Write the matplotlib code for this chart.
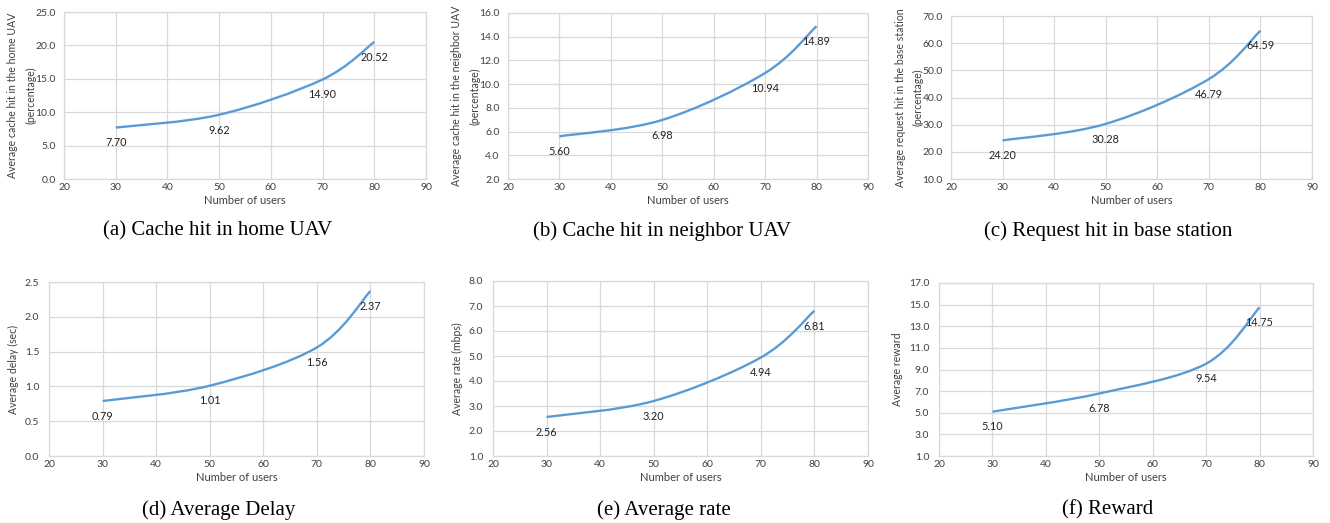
import matplotlib.pyplot as plt
from matplotlib.path import Path
import matplotlib.patches as patches
import numpy as np

# Data
users = [30, 50, 70, 80]
home_uav = [7.70, 9.62, 14.90, 20.52]
neighbor_uav = [5.60, 6.98, 10.94, 14.89]
base_station = [24.20, 30.28, 46.79, 64.59]
avg_delay = [0.79, 1.01, 1.56, 2.37]
avg_rate = [2.56, 3.20, 4.94, 6.81]
reward = [5.10, 6.78, 9.54, 14.75]

captions = ["(a) Cache hit in home UAV", "(b) Cache hit in neighbor UAV",
            "(c) Request hit in base station", "(d) Average Delay",
            "(e) Average rate", "(f) Reward"]
ylabels = ["Average cache hit in the home UAV\n(percentage)",
           "Average cache hit in the neighbor UAV\n(percentage)",
           "Average request hit in the base station\n(percentage)",
           "Average delay (sec)", "Average rate (mbps)", "Average reward"]
series = [home_uav, neighbor_uav, base_station, avg_delay, avg_rate, reward]
yranges = [(0, 25, 5), (2, 16, 2), (10, 70, 10), (0, 2.5, 0.5), (1, 8, 1), (1, 17, 2)]

# axes boxes in pixels: left, top, right, bottom
boxes = [(64, 12, 426, 179), (508, 13, 868, 179), (951, 16, 1312, 179),
         (49, 282, 424, 456), (493, 281, 868, 456), (939, 283, 1313, 456)]
cap_pos = [(218, 231), (662, 231), (1108, 231), (219, 510), (664, 510), (1108, 510)]

W, H = 1330, 523
BLUE = '#5B9BD5'
GRID = '#D9D9D9'
FONT = 'Lato'
TXT = '#404040'


def smooth_path(xs, ys):
    # Excel-style smoothed line: cubic Bezier segments through the points
    pts = np.column_stack([xs, ys]).astype(float)
    n = len(pts)
    verts = [pts[0]]
    codes = [Path.MOVETO]
    for i in range(n - 1):
        p0 = pts[i - 1] if i > 0 else pts[i]
        p1 = pts[i]
        p2 = pts[i + 1]
        p3 = pts[i + 2] if i + 2 < n else pts[i + 1]
        c1 = p1 + (p2 - p0) / 6
        c2 = p2 - (p3 - p1) / 6
        verts += [c1, c2, p2]
        codes += [Path.CURVE4] * 3
    return Path(verts, codes)


fig = plt.figure(figsize=(W / 100, H / 100), dpi=100)

for k in range(6):
    l, t, r, b = boxes[k]
    ax = fig.add_axes([l / W, 1 - b / H, (r - l) / W, (b - t) / H])
    ymin, ymax, ystep = yranges[k]
    ax.set_xlim(20, 90)
    ax.set_ylim(ymin, ymax)
    ax.set_xticks(range(20, 91, 10))
    yt = np.arange(ymin, ymax + ystep / 2, ystep)
    ax.set_yticks(yt)
    ax.set_yticklabels([f"{v:.1f}" for v in yt])
    ax.grid(True, color=GRID, linewidth=0.9)
    ax.set_axisbelow(True)
    for s in ax.spines.values():
        s.set_color(GRID)
        s.set_linewidth(0.9)
    ax.tick_params(length=0, labelsize=7.5, labelcolor=TXT, pad=3)
    ax.tick_params(axis='y', pad=6 if k < 3 else 7)
    for lab in ax.get_xticklabels() + ax.get_yticklabels():
        lab.set_fontfamily(FONT)

    ax.add_patch(patches.PathPatch(smooth_path(users, series[k]), facecolor='none',
                                   edgecolor=BLUE, linewidth=1.7, zorder=3))
    for x, y in zip(users, series[k]):
        ax.annotate(f"{y:.2f}", (x, y), xytext=(0, -11), textcoords='offset points',
                    ha='center', va='center', fontsize=7.8, family=FONT, color='#222222')

    ax.set_xlabel("Number of users", fontsize=8, family=FONT, color=TXT, labelpad=2)
    two_line = "\n" in ylabels[k]
    ax.set_ylabel(ylabels[k], fontsize=7.6, family=FONT, color=TXT,
                  labelpad=-1 if two_line else 4, linespacing=1.8)

    cx, cy = cap_pos[k]
    fig.text(cx / W, 1 - cy / H, captions[k], ha='center', va='center',
             fontsize=15, family='Liberation Serif')

fig.savefig('out.png', dpi=100)
